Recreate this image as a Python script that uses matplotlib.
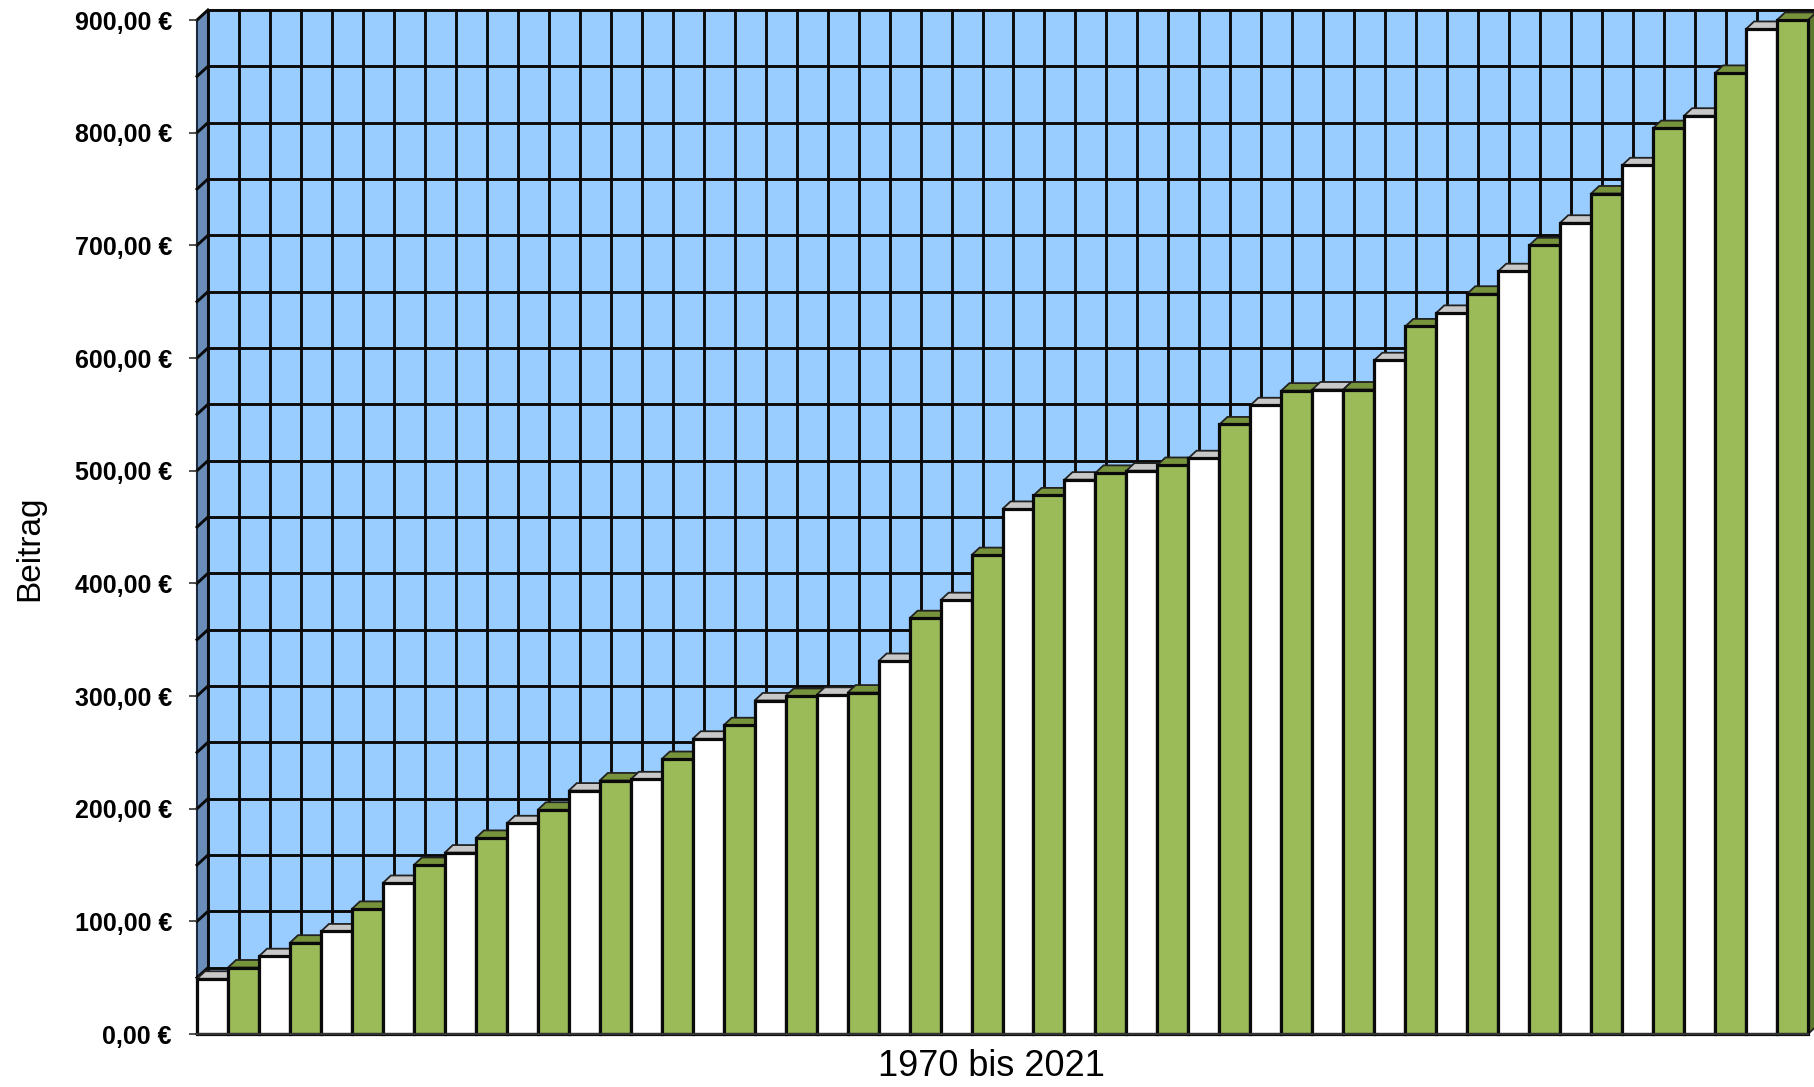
import matplotlib.pyplot as plt
from matplotlib.patches import Polygon
from matplotlib.ticker import FuncFormatter

plt.rcParams['font.family'] = ['Liberation Sans', 'DejaVu Sans']

# Beitrag pro Jahr, 1970 bis 2021
years = list(range(1970, 2022))
beitrag = [49, 59, 69, 81, 91, 111, 134, 150, 161, 174,
           187, 199, 216, 225, 226, 244, 262, 274, 296, 300,
           301, 303, 331, 369, 385, 425, 466, 478, 492, 498,
           500, 505, 511, 541, 558, 571, 572, 572, 598, 628,
           640, 657, 677, 700, 720, 746, 771, 804, 815, 853,
           892, 900]
yticks = [0, 100, 200, 300, 400, 500, 600, 700, 800, 900]

n = len(years)
wdx, wdy = 0.355, 8.9     # depth of back wall
cdx, cdy = 0.26, 6.7      # depth of column tops

fig = plt.figure(figsize=(18.14, 10.87), dpi=100)
ax = fig.add_axes([197 / 1814, 53 / 1087, 1611 / 1814, 1014 / 1087])
ax.set_xlim(0, n)
ax.set_ylim(0, 900)
for s in ax.spines.values():
    s.set_visible(False)

# back wall + side wall
ax.add_patch(Polygon([(wdx, wdy), (n + wdx, wdy), (n + wdx, 900 + wdy), (wdx, 900 + wdy)],
                     closed=True, facecolor='#99CCFF', edgecolor='none', zorder=0, clip_on=False))
ax.add_patch(Polygon([(0, 0), (wdx, wdy), (wdx, 900 + wdy), (0, 900)],
                     closed=True, facecolor='#6A8CB8', edgecolor='#1a2a40', lw=1.5, zorder=0.5,
                     clip_on=False))
ax.plot([wdx, n], [900 + wdy, 900 + wdy], color='#aaaaaa', lw=1.5, zorder=0.6, clip_on=False)

# grid on walls
for v in range(0, 901, 50):
    ax.plot([wdx, n + wdx], [v + wdy, v + wdy], color='#0a0a0a', lw=2.1, zorder=1, clip_on=False)
    ax.plot([0, wdx], [v, v + wdy], color='#0a0a0a', lw=2.1, zorder=1, clip_on=False)
for i in range(n + 1):
    ax.plot([i + wdx, i + wdx], [wdy, 900 + wdy], color='#0a0a0a', lw=2.1, zorder=1, clip_on=False)

# columns
for i, v in enumerate(beitrag):
    green = i % 2 == 1
    front = '#9BBB59' if green else 'white'
    top = '#77933C' if green else '#C8C8C8'
    side = '#5E7A2E' if green else '#B0B0B0'
    ax.add_patch(Polygon([(i + 1, 0), (i + 1 + cdx, cdy), (i + 1 + cdx, v + cdy), (i + 1, v)],
                         closed=True, facecolor=side, edgecolor='#222222', lw=1.3, zorder=2,
                         clip_on=False))
    ax.add_patch(Polygon([(i, v), (i + cdx, v + cdy), (i + 1 + cdx, v + cdy), (i + 1, v)],
                         closed=True, facecolor=top, edgecolor='#222222', lw=1.3, zorder=2,
                         clip_on=False))
    ax.bar(i + 0.5, v, width=1.0, color=front, edgecolor='#0a0a0a', linewidth=2.3, zorder=2,
           clip_on=False)

ax.plot([0, n], [0, 0], color='#333333', lw=1.6, zorder=3, clip_on=False)

ax.set_xticks([])
ax.set_yticks(yticks)
ax.yaxis.set_major_formatter(FuncFormatter(lambda v, p: f'{v:,.2f} €'.replace('.', ',')))
ax.tick_params(axis='y', length=6, width=1.2, color='#333333', pad=12, labelsize=18)
for lab in ax.get_yticklabels():
    lab.set_fontweight('bold')

fig.text(991 / 1814, 1 - 1067 / 1087, '1970 bis 2021', ha='center', va='center', fontsize=26)
fig.text(30 / 1814, 1 - 548 / 1087, 'Beitrag', ha='center', va='center', rotation=90, fontsize=24)

fig.savefig('out.png', dpi=100)
